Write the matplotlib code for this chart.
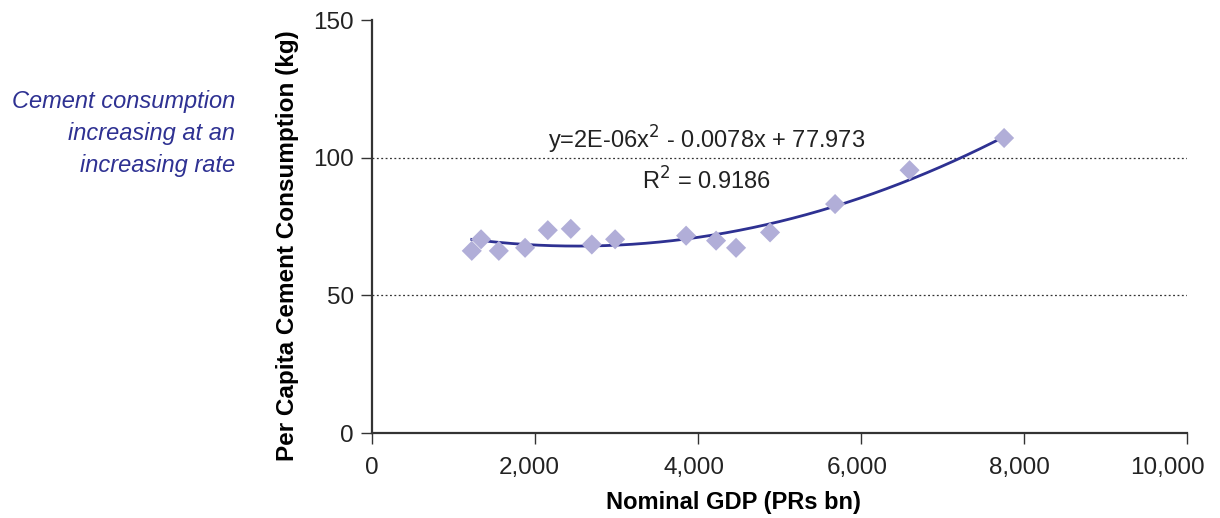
import matplotlib.pyplot as plt
import numpy as np
from matplotlib.ticker import FuncFormatter
from matplotlib.transforms import ScaledTranslation

# nominal GDP (PRs bn) vs per capita cement consumption (kg)
gdp = [1223, 1337, 1555, 1877, 2156, 2438, 2696, 2982, 3853, 4221, 4466, 4883, 5681, 6595, 7755]
cement = [66.2, 70.4, 66.2, 67.3, 73.7, 74.2, 68.5, 70.4, 71.7, 69.9, 67.3, 72.9, 83.2, 95.5, 107.2]
eq_text = 'y=2E-06x$^2$ - 0.0078x + 77.973'
r2_text = 'R$^2$ = 0.9186'

plt.rcParams['font.family'] = ['Liberation Sans', 'DejaVu Sans']

fig = plt.figure(figsize=(12.2, 5.18), dpi=100)
ax = fig.add_axes([0.305, 0.164, 0.668, 0.797])

# quadratic trendline
coef = np.polyfit(gdp, cement, 2)
xs = np.linspace(min(gdp), max(gdp), 200)
ax.plot(xs, np.polyval(coef, xs), color='#2e3192', lw=2, zorder=2)

ax.scatter(gdp, cement, marker='D', s=105, color='#b1aed8', edgecolors='none', zorder=3)

for yv in (50, 100):
    ax.axhline(yv, color='#333333', lw=0.9, ls=(0, (1.5, 2)), zorder=1)

ax.set_xlim(0, 10000)
ax.set_ylim(0, 150)
ax.set_xticks(np.arange(0, 10001, 2000))
ax.set_yticks([0, 50, 100, 150])
ax.xaxis.set_major_formatter(FuncFormatter(lambda v, p: f'{int(v):,}'))

for s in ('top', 'right'):
    ax.spines[s].set_visible(False)
for s in ('left', 'bottom'):
    ax.spines[s].set_color('#333333')
    ax.spines[s].set_linewidth(1.6)
ax.tick_params(axis='both', direction='out', length=8, width=1, color='#333333',
               labelsize=17.5, labelcolor='#222222', pad=5)
ax.tick_params(axis='x', pad=9)

# nudge x tick labels left a bit, the last one more so it stays inside the figure
shifts = [0, -6, -4, -4, -5, -20]
for lab, dx in zip(ax.get_xticklabels(), shifts):
    lab.set_transform(lab.get_transform() + ScaledTranslation(dx / 100, 0, fig.dpi_scale_trans))

ax.set_xlabel('Nominal GDP (PRs bn)', fontsize=17, fontweight='bold')
ax.xaxis.set_label_coords(0.443, -0.14)
ax.set_ylabel('Per Capita Cement Consumption (kg)', fontsize=17.5, fontweight='bold')
ax.yaxis.set_label_coords(-0.09, 0.453)

ax.text(4100, 106.5, eq_text, fontsize=17, ha='center', va='center', color='#222222')
ax.text(4100, 91.5, r2_text, fontsize=17, ha='center', va='center', color='#222222')

fig.text(235 / 1220, 1 - 134 / 518,
         'Cement consumption\nincreasing at an\nincreasing rate',
         fontsize=17, style='italic', color='#2e3192', ha='right', va='center',
         linespacing=1.5)

fig.savefig('out.png', dpi=100)
